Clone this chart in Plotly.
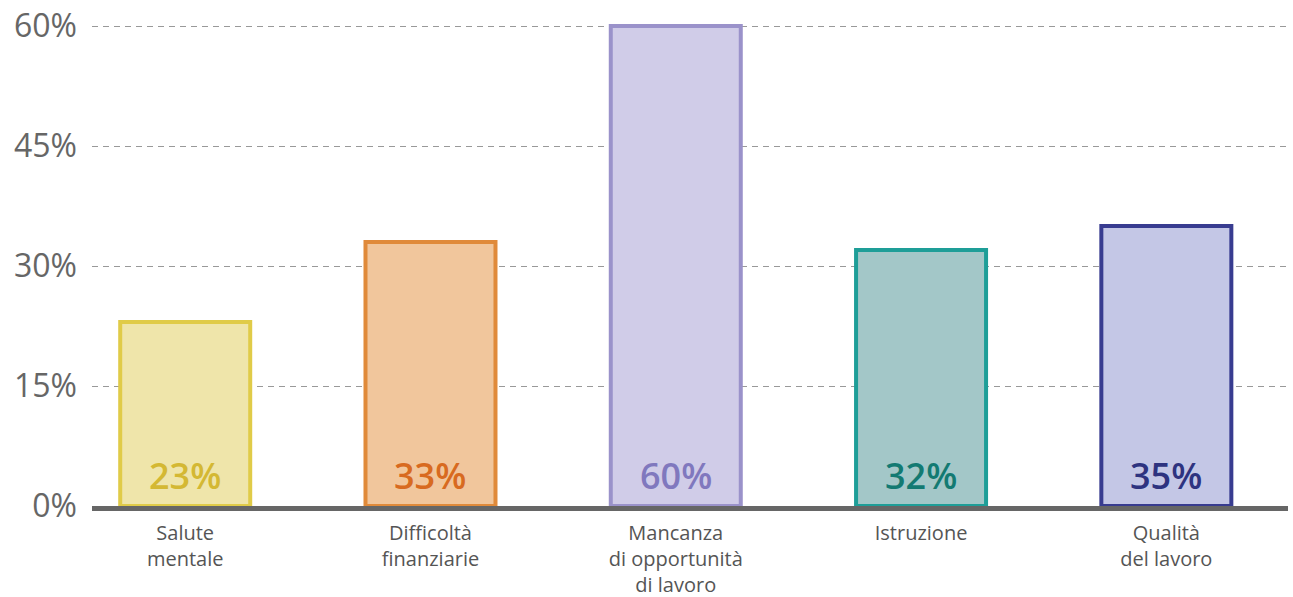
import plotly.graph_objects as go

categories = ["Salute<br>mentale", "Difficoltà<br>finanziarie", "Mancanza<br>di opportunità<br>di lavoro", "Istruzione", "Qualità<br>del lavoro"]
values = [23, 33, 60, 32, 35]
value_labels = ["23%", "33%", "60%", "32%", "35%"]
fill_colors = ["#EFE5AA", "#F1C69C", "#D0CCE8", "#A3C7C8", "#C4C7E6"]
line_colors = ["#E0CB48", "#E08A3A", "#9A92CA", "#1E9E98", "#383C90"]
text_colors = ["#D4B833", "#D86A20", "#8078BE", "#137A72", "#2E3380"]
y_ticks = [0, 15, 30, 45, 60]
y_tick_text = ["0%", "15%", "30%", "45%", "60%"]

FONT = "Open Sans"

fig = go.Figure()
fig.add_trace(go.Bar(
    x=list(range(len(categories))),
    y=values,
    width=0.53,
    marker=dict(color=fill_colors, line=dict(color=line_colors, width=4)),
    hoverinfo="skip",
))

for i, (lab, col) in enumerate(zip(value_labels, text_colors)):
    fig.add_annotation(
        x=i, y=0, text=lab, showarrow=False, yanchor="bottom", yshift=4,
        font=dict(family=FONT, size=36, color=col, weight=600),
    )

fig.update_layout(
    width=1293, height=597,
    margin=dict(l=92, r=5, t=18, b=91),
    plot_bgcolor="white", paper_bgcolor="white",
    showlegend=False,
    font=dict(family=FONT),
    xaxis=dict(
        range=[-0.38, 4.496],
        tickmode="array", tickvals=list(range(len(categories))), ticktext=categories,
        tickfont=dict(family=FONT, size=20, color="#555555"),
        showgrid=False, zeroline=False,
        showline=True, linecolor="#666666", linewidth=5,
        ticks="", ticklabelstandoff=5, automargin=False,
        ticklabeloverflow="allow",
    ),
    yaxis=dict(
        range=[0, 61],
        tickmode="array", tickvals=y_ticks, ticktext=y_tick_text,
        tickfont=dict(family=FONT, size=32, color="#666666"),
        showgrid=True, gridcolor="#999999", gridwidth=1, griddash="6px,5px",
        zeroline=False, showline=False, ticks="", ticklabelstandoff=14,
        automargin=False, ticklabeloverflow="allow",
    ),
)

# remove the browser's default 8px body margin so the figure fills the window exactly
fig.write_html("out.html", config={"displayModeBar": False},
               post_script="document.body.style.margin='0px';")
